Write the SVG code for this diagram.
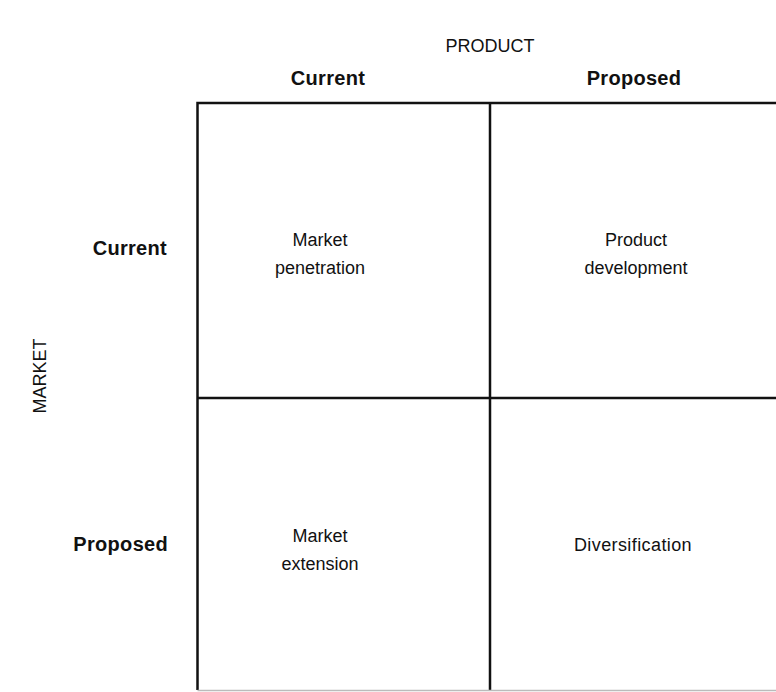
<svg xmlns="http://www.w3.org/2000/svg" width="776" height="692" viewBox="0 0 776 692">
<style>
text{font-family:"Liberation Sans",Arial,sans-serif;font-size:18px;fill:#111}
.h{font-weight:bold;font-size:20px;letter-spacing:0.3px}
.c{text-anchor:middle}
.r{text-anchor:end}
.ln{stroke:#111;stroke-width:2.5;fill:none}
</style>
<rect width="776" height="692" fill="#fff"/>
<g id="axis-labels">
<text class="c" x="490" y="52">PRODUCT</text>
<text class="c" transform="translate(46,376) rotate(-90)">MARKET</text>
</g>
<g id="col-headers">
<text class="h c" x="328" y="85">Current</text>
<text class="h c" x="634" y="85">Proposed</text>
</g>
<g id="row-headers">
<text class="h r" x="167" y="255">Current</text>
<text class="h r" x="168" y="551">Proposed</text>
</g>
<g id="connectors">
<path class="ln" d="M197.5,690 V103 H776"/>
<path class="ln" d="M490,103 V690"/>
<path class="ln" d="M197.5,398 H776"/>
<path d="M197.5,690.5 H776" stroke="#bbb" stroke-width="1.5"/>
</g>
<g id="market-penetration">
<text class="c" x="320" y="246">Market</text>
<text class="c" x="320" y="274">penetration</text>
</g>
<g id="product-development">
<text class="c" x="636" y="246">Product</text>
<text class="c" x="636" y="274">development</text>
</g>
<g id="market-extension">
<text class="c" x="320" y="542">Market</text>
<text class="c" x="320" y="570">extension</text>
</g>
<g id="diversification">
<text class="c" x="633" y="551" font-size="20" letter-spacing="0.4">Diversification</text>
</g>
</svg>
